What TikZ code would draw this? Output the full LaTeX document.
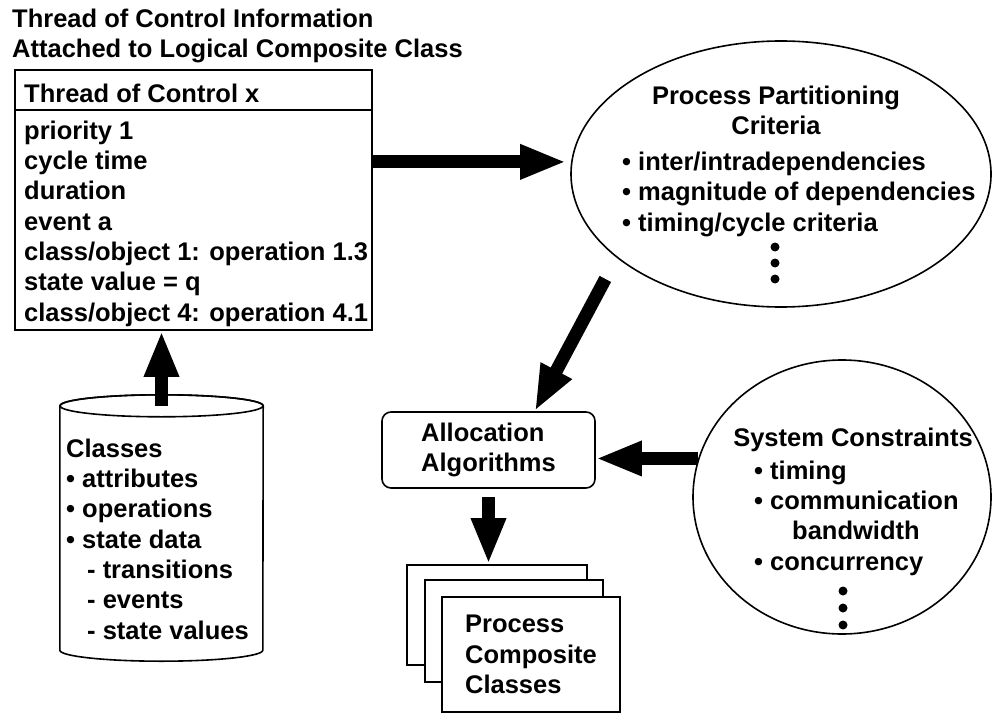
\documentclass[tikz,border=0pt]{standalone}
\usepackage{fontspec}
\setmainfont{Liberation Sans}
\usetikzlibrary{arrows.meta,shapes.geometric}
\begin{document}
\begin{tikzpicture}
  [x=1pt,y=-1pt,
   every node/.style={font=\fontsize{25.5}{30.3}\selectfont\bfseries,inner sep=0pt},
   txt/.style={anchor=base west,align=left},
   mid/.style={anchor=base,align=center},
   outline/.style={draw,line width=1.6pt,fill=white},
   page/.style={outline,minimum width=178pt},
   fatarrow/.style={line width=13pt,-{Triangle[length=46pt,width=32pt]}}]

  \useasboundingbox (0,0) rectangle (992,714);
  \coordinate (hdr) at (0,110);

  \node [txt] (title) at (12,58) {Thread of Control Information\\Attached to Logical Composite Class};

  \node [outline,minimum width=357pt,minimum height=260pt] (tcbox) at (193.5,200) {};
  \draw [line width=1.6pt] (tcbox.west |- hdr) -- (tcbox.east |- hdr);
  \node [txt] (tchead) at (24,103) {Thread of Control x};
  \node [txt] (tcbody) at (24,321) {priority 1\\cycle time\\duration\\event a\\class/object 1: operation 1.3\\state value = q\\class/object 4: operation 4.1};

  \node [minimum width=203pt,minimum height=244pt] (classes) at (161.5,528) {};
  \draw [outline] (classes.north west) -- (classes.south west)
    arc [start angle=180,end angle=360,x radius=101.5pt,y radius=11pt] -- (classes.north east)
    arc [start angle=0,end angle=180,x radius=101.5pt,y radius=11pt] -- cycle;
  \draw [line width=1.6pt] (classes.north) ellipse [x radius=101.5pt,y radius=11pt];
  \node [txt] (classtxt) at (66,639) {Classes\\• attributes\\• operations\\• state data\\\hspace*{21pt}- transitions\\\hspace*{21pt}- events\\\hspace*{21pt}- state values};

  \node [outline,ellipse,minimum width=420pt,minimum height=266pt] (ppc) at (781,174) {};
  \node [mid] (ppchead) at (776,135) {Process Partitioning\\Criteria};
  \node [txt] (ppclist) at (622,231) {• inter/intradependencies\\• magnitude of dependencies\\• timing/cycle criteria};
  \foreach \y in {247,263,279} \fill (775,\y) circle [radius=4.5pt];

  \node [outline,rounded corners=9pt,minimum width=213pt,minimum height=76pt,align=left] (alloc) at (488.5,450) {Allocation\\Algorithms};

  \node [outline,ellipse,minimum width=298pt,minimum height=274pt] (sysc) at (842,497) {};
  \node [mid] (syshead) at (853,446) {System Constraints};
  \node [txt] (syslist) at (754,570) {• timing\\• communication\\\hspace*{38pt}bandwidth\\• concurrency};
  \foreach \y in {591,608,625} \fill (843,\y) circle [radius=4.5pt];

  \node [page,minimum width=180pt,minimum height=100pt] (page1) at (497,615) {};
  \node [page,minimum height=102pt] (page2) at (514,631) {};
  \node [page,minimum height=115pt,align=left] (page3) at (531,654.5) {Process\\Composite\\Classes};

  \draw [fatarrow] (classes.north) -- (classes.north |- tcbox.south);
  \draw [fatarrow,shorten >=4pt] (tcbox.12.6) -- (tcbox.12.6 -| ppc.west);
  \draw [fatarrow,shorten <=24pt] (ppc.207) -- (alloc.40);
  \draw [fatarrow] (sysc.165) -- (alloc.east |- sysc.165);
  \draw [fatarrow,shorten <=8pt] (alloc.south) -- (alloc.south |- page1.north);
\end{tikzpicture}
\end{document}
